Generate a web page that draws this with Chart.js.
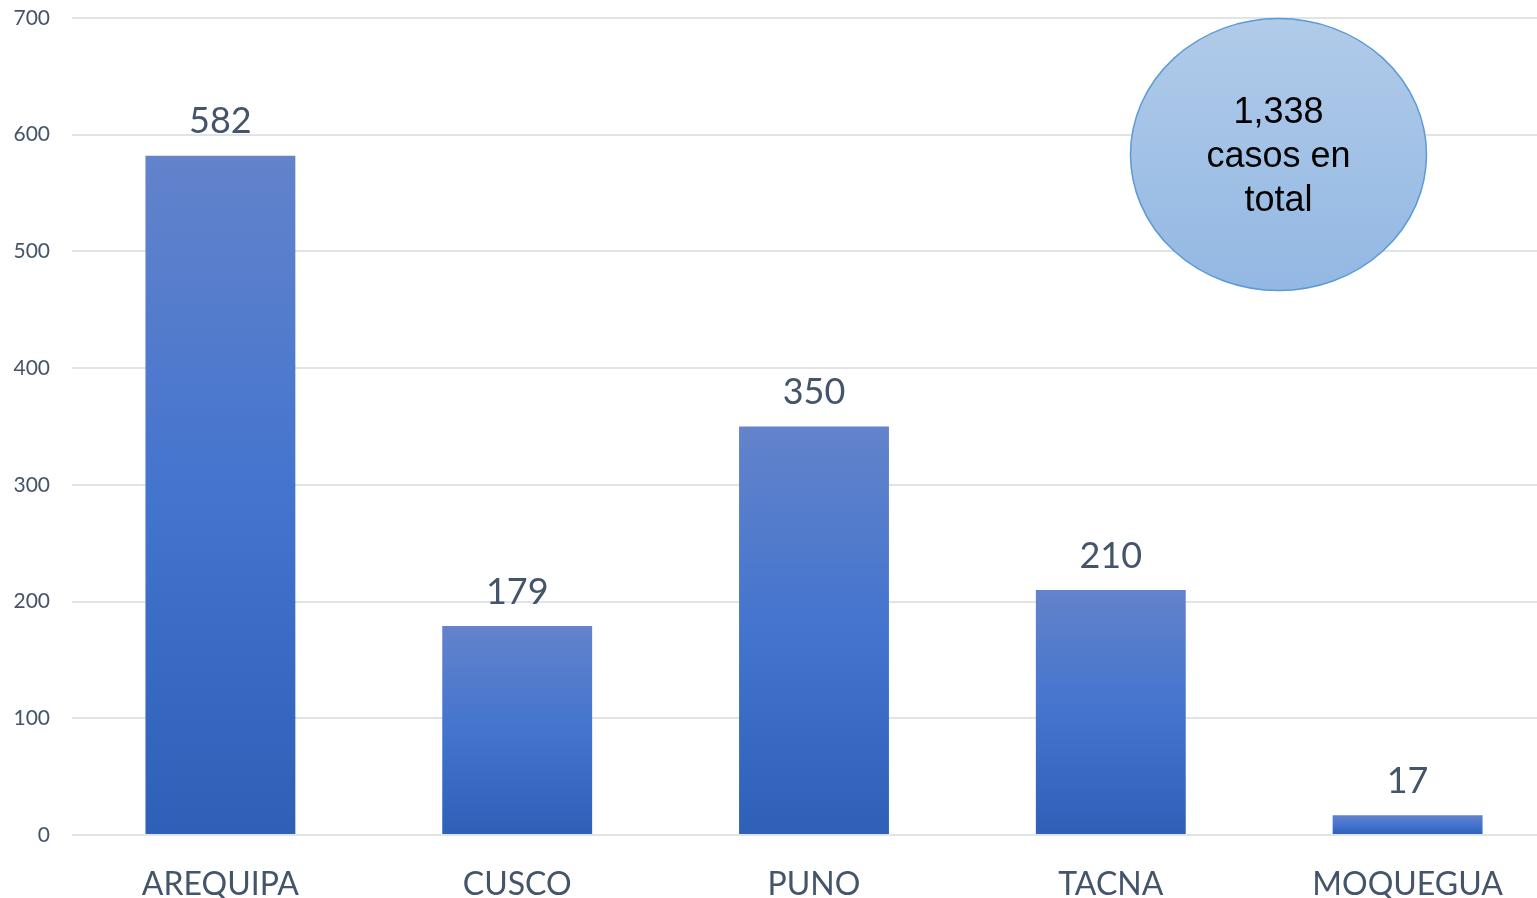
<!DOCTYPE html>
<html>
<head>
<meta charset="utf-8">
<script src="https://cdn.jsdelivr.net/npm/chart.js@4/dist/chart.umd.min.js"></script>
<style>
  html, body { margin: 0; padding: 0; background: #fff; overflow: hidden; }
  #wrap { width: 1556px; height: 898px; position: relative; }
</style>
</head>
<body>
<div id="wrap"><canvas id="casesChart"></canvas></div>
<script>
const regions = ['AREQUIPA', 'CUSCO', 'PUNO', 'TACNA', 'MOQUEGUA'];
const cases = [582, 179, 350, 210, 17];
const yTicks = [0, 100, 200, 300, 400, 500, 600, 700];

const textColor = '#44546A';
const total = cases.reduce((a, b) => a + b, 0);

// gradient per bar, from its top down to the zero line
function barGradient(context) {
    const chart = context.chart;
    const y = chart.scales && chart.scales.y;
    if (!y || context.dataIndex === undefined) return '#4472C4';
    const top = y.getPixelForValue(cases[context.dataIndex]);
    const bottom = y.getPixelForValue(0);
    if (!isFinite(top) || !isFinite(bottom) || top >= bottom) return '#4472C4';
    const g = chart.ctx.createLinearGradient(0, top, 0, bottom);
    g.addColorStop(0, '#6383CB');
    g.addColorStop(0.5, '#4374CE');
    g.addColorStop(1, '#2E60B8');
    return g;
}

const valueLabels = {
    id: 'valueLabels',
    afterDatasetsDraw(chart) {
        const ctx = chart.ctx;
        const meta = chart.getDatasetMeta(0);
        ctx.save();
        ctx.font = '36px Lato, "Open Sans", sans-serif';
        ctx.fillStyle = textColor;
        ctx.textAlign = 'center';
        ctx.textBaseline = 'bottom';
        meta.data.forEach((bar, i) => {
            ctx.fillText(String(cases[i]), bar.x, bar.y - 16);
        });
        ctx.restore();
    }
};

const totalBubble = {
    id: 'totalBubble',
    afterDatasetsDraw(chart) {
        const ctx = chart.ctx;
        const area = chart.chartArea;
        const cx = area.left + (area.right - area.left) * 0.813;
        const cy = chart.scales.y.getPixelForValue(583);
        const rx = 148, ry = 136;
        ctx.save();
        const g = ctx.createLinearGradient(0, cy - ry, 0, cy + ry);
        g.addColorStop(0, '#B1CBE9');
        g.addColorStop(1, '#93B8E3');
        ctx.beginPath();
        ctx.ellipse(cx, cy, rx, ry, 0, 0, Math.PI * 2);
        ctx.fillStyle = g;
        ctx.fill();
        ctx.lineWidth = 1.5;
        ctx.strokeStyle = '#5B9BD5';
        ctx.stroke();
        ctx.fillStyle = '#000';
        ctx.font = '36px "Liberation Sans", Arial, sans-serif';
        ctx.textAlign = 'center';
        ctx.textBaseline = 'middle';
        const lines = [total.toLocaleString('en-US'), 'casos en', 'total'];
        lines.forEach((t, i) => ctx.fillText(t, cx, cy - 41 + i * 44));
        ctx.restore();
    }
};

new Chart(document.getElementById('casesChart'), {
    type: 'bar',
    data: {
        labels: regions,
        datasets: [{
            data: cases,
            backgroundColor: barGradient,
            borderWidth: 0,
            barPercentage: 0.505,
            categoryPercentage: 1
        }]
    },
    options: {
        responsive: true,
        maintainAspectRatio: false,
        animation: false,
        layout: { padding: { top: 18, right: 0, left: 0, bottom: 0 } },
        plugins: { legend: { display: false }, tooltip: { enabled: false } },
        scales: {
            x: {
                grid: { display: false, drawTicks: false },
                border: { display: false },
                ticks: {
                    color: textColor,
                    font: { family: 'Lato, "Open Sans", sans-serif', size: 32 },
                    padding: 30,
                    maxRotation: 0
                },
                afterFit(scale) { scale.height = 63; }
            },
            y: {
                min: 0,
                max: 700,
                afterBuildTicks(scale) { scale.ticks = yTicks.map(v => ({ value: v })); },
                grid: { color: '#E0E3E8', lineWidth: 2, drawTicks: false },
                border: { display: false },
                ticks: {
                    color: textColor,
                    font: { family: 'Lato, "Open Sans", sans-serif', size: 21 },
                    padding: 22
                },
                afterFit(scale) {
                    scale.width = 72;
                    scale.paddingTop = 0;
                    scale.paddingBottom = 0;
                }
            }
        }
    },
    plugins: [valueLabels, totalBubble]
});
</script>
</body>
</html>
